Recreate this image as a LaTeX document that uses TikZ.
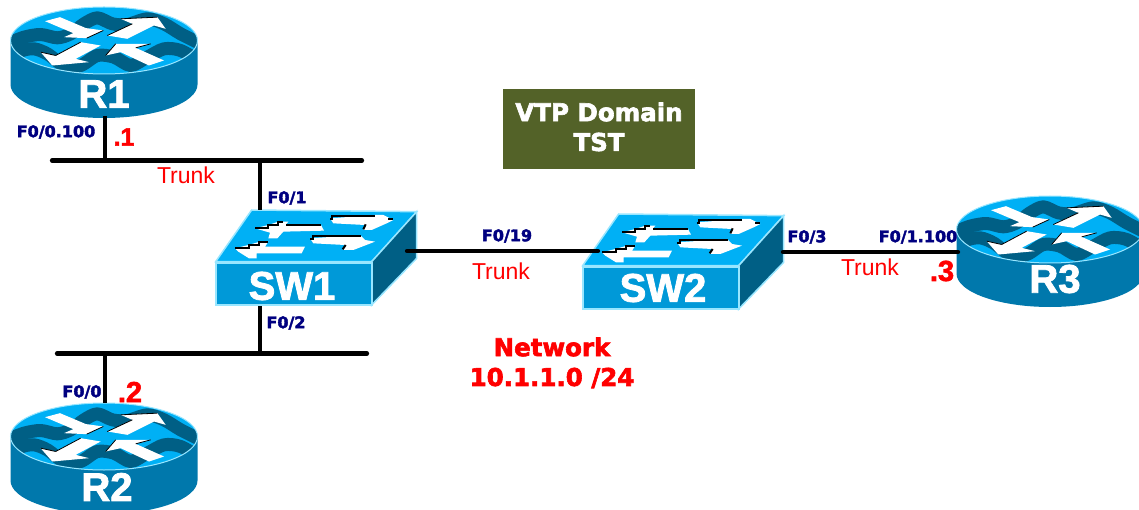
\documentclass[tikz,border=0pt]{standalone}
\usepackage{fontspec}
\setmainfont{Liberation Sans}[BoldFeatures={FakeBold=2}]
\newfontfamily\widefont{DejaVu Sans}[BoldFeatures={FakeBold=2.5}]
\usepackage{xcolor}
\definecolor{bodyblue}{HTML}{0078AC}
\definecolor{darkblue}{HTML}{005F85}
\definecolor{brightblue}{HTML}{00B0F5}
\definecolor{frontblue}{HTML}{0099D8}
\definecolor{edgeblue}{HTML}{99E6FF}
\definecolor{domaingreen}{HTML}{536228}
\definecolor{portnavy}{HTML}{000080}
\tikzset{
    wire/.style={line width=4.2pt, line cap=round},
    portlabel/.style={text=portnavy, font=\widefont\bfseries\fontsize{16}{16}\selectfont, inner sep=0pt},
    trunklabel/.style={text=red, font=\fontsize{23}{23}\selectfont, inner sep=0pt},
    hostlabel/.style={text=red, font=\bfseries\fontsize{#1}{#1}\selectfont, inner sep=0pt},
    iconlabel/.style={text=white, font=\bfseries\fontsize{40}{40}\selectfont, inner sep=0pt},
    netlabel/.style={text=red, font=\widefont\bfseries\fontsize{24.5}{24.5}\selectfont, inner sep=0pt},
    domainlabel/.style={text=white, font=\widefont\bfseries\fontsize{24.5}{24.5}\selectfont, inner sep=0pt},
    routericon/.pic={
        \fill [bodyblue] (-93.5,2) -- (-93.5,44) arc [start angle=180, end angle=0, x radius=93.5, y radius=33.5] -- (93.5,2) -- cycle;
        \fill [brightblue] (0,0) ellipse [x radius=93.5, y radius=33.5];
        \begin{scope}[scale=1/3, shift={(-310,-120)}]
            \clip (310,120) ellipse [x radius=280, y radius=100];
            % Waves
            \draw [darkblue, line width=13pt, line join=round] plot [smooth] coordinates {(20,130) (70,110) (120,102) (170,112) (210,100) (250,70) (290,52) (335,70) (380,72) (440,55) (490,70) (540,100) (600,130)};
            \draw [darkblue, line width=13pt, line join=round] plot [smooth] coordinates {(20,180) (60,152) (100,145) (140,160) (190,195) (240,195) (290,165) (340,170) (390,195) (440,170) (490,145) (540,150) (600,185)};
        \end{scope}
        \draw [edgeblue, line width=1pt] (0,0) ellipse [x radius=93.5, y radius=33.5];
        \begin{scope}[scale=1/3, shift={(-310,-120)}]
            % Arrows
            \fill [white] (133,62) -- (178,50) -- (268,88) -- (250,82) -- (308,90) -- (258,113) -- (190,110) -- (218,98) -- cycle;
            \fill [white] (320,105) -- (395,70) -- (360,55) -- (470,50) -- (495,85) -- (460,75) -- (380,115) -- cycle;
            \fill [white] (300,135) -- (225,175) -- (265,185) -- (155,195) -- (120,155) -- (165,165) -- (240,125) -- cycle;
            \fill [white] (490,180) -- (445,195) -- (360,155) -- (315,165) -- (345,130) -- (450,130) -- (405,142) -- cycle;
            \draw [line width=0.8pt] (320,105) -- (395,70);
            \draw [line width=0.8pt] (360,55) -- (470,50);
            \draw [line width=0.8pt] (165,165) -- (240,125);
            \draw [line width=0.8pt] (120,155) -- (165,165);
            \draw [line width=0.8pt] (315,165) -- (345,130);
            \draw [line width=0.8pt] (405,142) -- (450,130);
            \draw [line width=0.8pt] (258,113) -- (308,90);
        \end{scope}
    },
    switchicon/.pic={
        \begin{scope}[scale=1/3, shift={(-48,-216)}]
            \fill [brightblue, draw=edgeblue, line width=1.5pt] (47,215) -- (155,60) -- (650,65) -- (515,215) -- cycle;
            \fill [darkblue, draw=edgeblue, line width=1.5pt] (515,215) -- (650,65) -- (650,205) -- (515,345) -- cycle;
            \fill [frontblue, draw=edgeblue, line width=2pt] (47,218) rectangle (515,345);
            % Arrows
            \fill [white] (165,115) -- (205,105) -- (235,95) -- (265,95) -- (258,103) -- (362,103) -- (372,122) -- (250,125) -- (232,145) -- (205,145) -- (210,128) -- cycle;
            \fill [white] (390,85) -- (525,75) -- (550,75) -- (580,90) -- (560,100) -- (515,120) -- (490,120) -- (495,105) -- (400,100) -- cycle;
            \fill [white] (105,175) -- (145,165) -- (180,155) -- (205,155) -- (195,170) -- (315,170) -- (305,190) -- (170,190) -- (170,205) -- (147,205) -- (115,185) -- cycle;
            \fill [white] (330,145) -- (480,135) -- (495,150) -- (525,155) -- (460,180) -- (428,180) -- (435,165) -- (340,160) -- cycle;
            \draw [line width=2pt] (165,115) -- (205,115) -- (205,105) -- (235,105) -- (235,97) -- (250,97);
            \draw [line width=2pt] (258,105) -- (362,105);
            \draw [line width=2pt] (390,87) -- (397,87) -- (397,77) -- (525,77);
            \draw [line width=2pt] (565,88) -- (578,88);
            \draw [line width=2pt] (497,103) -- (490,118);
            \draw [line width=2pt] (105,175) -- (147,175) -- (147,165) -- (178,165) -- (178,155) -- (205,155);
            \draw [line width=2pt] (330,148) -- (340,148) -- (340,138) -- (482,138);
            \draw [line width=2pt] (437,165) -- (428,178);
        \end{scope}
    }
}

\begin{document}
\begin{tikzpicture}[x=1pt, y=-1pt]
    \path [use as bounding box, clip] (0,0) rectangle (1139,510);

    % Ports
    \coordinate (R1port) at (105,116);
    \coordinate (R2port) at (105,403);
    \coordinate (R3port) at (958,252);
    \coordinate (TopBusL) at (52,160.5);
    \coordinate (TopBusR) at (362,160.5);
    \coordinate (TopBusR1) at (105,160.5);
    \coordinate (TopBusSW) at (260,160.5);
    \coordinate (LowBusL) at (57,353.5);
    \coordinate (LowBusR) at (367,353.5);
    \coordinate (LowBusR2) at (105,353.5);
    \coordinate (LowBusSW) at (260,353.5);
    \coordinate (SW1top) at (260,210);
    \coordinate (SW1bot) at (260,306);
    \coordinate (SW1east) at (407,251);
    \coordinate (SW2west) at (598,251);
    \coordinate (SW2east) at (783,252);

    % Icons
    \pic at (104,40.5) {routericon};
    \pic at (104,436.5) {routericon};
    \pic at (1050,229.5) {routericon};
    \pic at (216,262) {switchicon};
    \pic at (583,266) {switchicon};

    % Links
    \draw [wire] (TopBusL) -- (TopBusR);
    \draw [wire, line cap=butt] (R1port) -- (TopBusR1);
    \draw [wire, line cap=butt] (TopBusSW) -- (SW1top);
    \draw [wire] (LowBusL) -- (LowBusR);
    \draw [wire, line cap=butt] (LowBusR2) -- (R2port);
    \draw [wire, line cap=butt] (SW1bot) -- (LowBusSW);
    \draw [wire] (SW1east) -- (SW2west);
    \draw [wire] (SW2east) -- (R3port);

    % Device names
    \node [iconlabel] (R1) at (104,94) {R1};
    \node [iconlabel] (R2) at (107,487) {R2};
    \node [iconlabel] (R3) at (1055,279) {R3};
    \node [iconlabel] (SW1) at (292,286) {SW1};
    \node [iconlabel] (SW2) at (663,288) {SW2};

    % Interfaces
    \node [portlabel] (R1if) at (56,132) {F0/0.100};
    \node [portlabel] (R2if) at (82,392) {F0/0};
    \node [portlabel] (R3if) at (918,237) {F0/1.100};
    \node [portlabel] (SW1a) at (287,198) {F0/1};
    \node [portlabel] (SW1b) at (286,323) {F0/2};
    \node [portlabel] (SW1c) at (507,236) {F0/19};
    \node [portlabel] (SW2a) at (807,237) {F0/3};

    % Addresses
    \node [hostlabel=25] (R1ip) at (124,137) {.1};
    \node [hostlabel=29] (R2ip) at (130,392) {.2};
    \node [hostlabel=29] (R3ip) at (942,271) {.3};

    % Trunks
    \node [trunklabel] (TrunkA) at (186,175) {Trunk};
    \node [trunklabel] (TrunkB) at (501,271) {Trunk};
    \node [trunklabel] (TrunkC) at (870,267) {Trunk};

    % Domain and network
    \fill [domaingreen] (503,89) rectangle (695,169);
    \node [domainlabel] (VTPname) at (599,112) {VTP Domain};
    \node [domainlabel] (VTPid) at (599,142) {TST};
    \node [netlabel] (NetName) at (552,347) {Network};
    \node [netlabel] (NetAddr) at (552,378) {10.1.1.0 /24};
\end{tikzpicture}
\end{document}
